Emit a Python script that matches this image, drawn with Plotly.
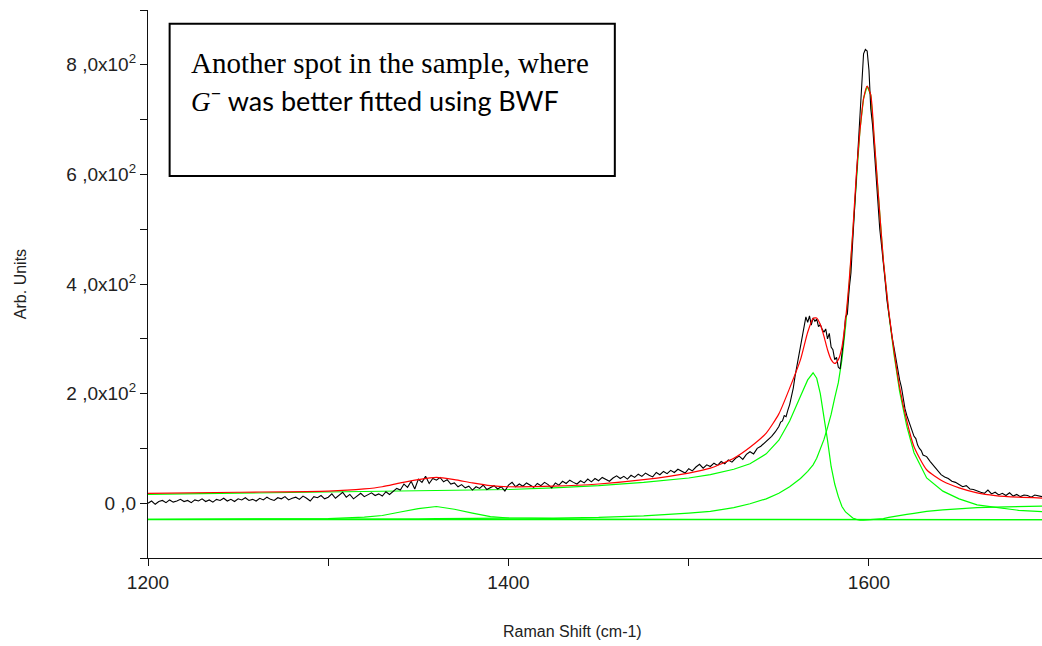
import plotly.graph_objects as go

# ---------------- data ----------------
# measured spectrum (black)
raw_x_a = list(range(1200, 1550, 2))
raw_y_a = [0, 4, -2, 3, 5, 1, 6, 2, 4, 7, 3, 5, 1, 6, 4, 8, 3, 6, 2, 7,
           5, 9, 4, 7, 3, 8, 6, 10, 5, 7, 4, 9, 6, 11, 7, 5, 10, 8, 12, 6,
           9, 11, 7, 13, 9, 4, 12, 10, 14, 8, 11, 17, 9, 14, 20, 11, 16, 8, 13, 18,
           12, 15, 19, 14, 17, 13, 21, 16, 22, 27, 24, 35, 29, 40, 26, 44, 38, 49, 36, 45,
           42, 47, 39, 43, 35, 37, 30, 34, 28, 31, 24, 30, 27, 33, 25, 29, 32, 26, 30, 22,
           33, 38, 30, 35, 31, 37, 33, 29, 36, 32, 38, 34, 28, 37, 33, 40, 36, 42, 38, 35,
           41, 37, 44, 39, 45, 41, 47, 43, 40, 46, 50, 45, 49, 44, 51, 47, 53, 49, 55, 51,
           48, 56, 52, 58, 54, 60, 56, 62, 58, 55, 63, 59, 66, 71, 64, 70, 67, 73, 69, 76,
           72, 79, 75, 82, 86, 80, 89, 94, 90, 100, 104, 110, 116, 122, 130]
raw_x_b = list(range(1550, 1631, 1))
raw_y_b = [140, 148, 150, 160, 158, 170, 180, 195, 210, 232, 250, 268, 280, 300, 318, 340, 330, 342, 325, 338,
           332, 336, 322, 326, 318, 312, 318, 300, 310, 285, 280, 262, 266, 248, 245, 270, 300, 340, 345, 390,
           420, 480, 540, 600, 650, 720, 780, 820, 828, 825, 790, 720, 690, 640, 590, 545, 500, 470, 430, 405,
           370, 345, 320, 300, 282, 260, 242, 225, 212, 190, 172, 160, 150, 140, 128, 122, 118, 106, 100, 96,
           88]
raw_x_c = list(range(1632, 1701, 2))
raw_y_c = [85, 76, 68, 60, 52, 48, 45, 40, 38, 34, 30, 32, 26, 25, 22, 20, 18, 24, 17, 20,
           15, 18, 14, 19, 13, 16, 12, 15, 14, 11, 15, 13, 12, 14, 12]

# fitted curves
fit_x = [1200, 1250, 1300, 1320, 1330, 1340, 1350, 1360, 1370, 1380,
         1390, 1400, 1425, 1450, 1475, 1500, 1512, 1525, 1534, 1543,
         1550, 1556, 1562, 1566, 1569, 1571, 1573, 1575, 1577, 1579,
         1581, 1583, 1585, 1587, 1589, 1591, 1593, 1595, 1597, 1599,
         1601, 1603, 1605, 1608, 1611, 1614, 1617, 1621, 1625, 1632,
         1641, 1650, 1660, 1670, 1683, 1700]
fit_total = [18, 20, 22, 26, 30, 37, 43, 47, 43, 37,
             32, 30, 31, 35, 43, 55, 64, 82, 102, 128,
             163, 210, 262, 312, 337, 338, 326, 305, 280, 262,
             255, 262, 285, 335, 405, 495, 600, 680, 738, 761,
             745, 662, 572, 443, 350, 275, 212, 150, 103, 61,
             40, 28, 19, 14, 11, 9]
fit_bwf = [16, 18, 20, 21, 21.5, 22, 22.5, 23, 23.5, 24,
           24.5, 25, 28, 32, 38, 46, 52, 62, 72, 90,
           115, 150, 195, 225, 238, 228, 200, 160, 115, 67,
           35, 12, -6, -16, -22, -27, -29.5, -31, -31, -30.5,
           -30, -29.5, -29, -28, -26, -24, -22.5, -20.5, -18.5, -15,
           -12, -9.5, -8, -7, -6, -5]
fit_gplus = [-29.5, -29.5, -29, -29, -28.5, -28.5, -28.5, -28, -28, -28,
             -27.5, -27.5, -27, -26, -23, -18, -15, -8, -1, 8,
             18, 30, 45, 58, 70, 82, 98, 116, 138, 162,
             192, 220, 262, 322, 397, 492, 599, 681, 739, 761,
             745, 661, 571, 441, 346, 269, 204, 140, 92, 46,
             22, 8, -3, -7, -13, -16]
d_x = [1200, 1250, 1300, 1320, 1330, 1340, 1350, 1360, 1370, 1380, 1390, 1400, 1425, 1450, 1500, 1600, 1700]
d_y = [-29.5, -29, -28, -25.5, -22.5, -16, -10, -6, -11, -18, -24.5, -27, -28.5, -29, -29.5, -30, -30]
base_x = [1200, 1700]
base_y = [-30, -30]

y_major = [0, 200, 400, 600, 800]
y_labels = ["0 ,0", "2 ,0x10<sup>2</sup>", "4 ,0x10<sup>2</sup>", "6 ,0x10<sup>2</sup>", "8 ,0x10<sup>2</sup>"]
y_minor = [-100, 100, 300, 500, 700, 900]
x_major = [1200, 1400, 1600]
x_labels = ["1200", "1400", "1600"]
x_minor = [1300, 1500, 1700]

X_RANGE = [1200, 1696]
Y_RANGE = [-100, 900]

# ---------------- figure ----------------
GREEN = "#00ff00"
fig = go.Figure()
fig.add_trace(go.Scatter(x=base_x, y=base_y, mode="lines", line=dict(color=GREEN, width=1.2)))
fig.add_trace(go.Scatter(x=d_x, y=d_y, mode="lines", line=dict(color=GREEN, width=1.2)))
fig.add_trace(go.Scatter(x=fit_x, y=fit_gplus, mode="lines", line=dict(color=GREEN, width=1.2)))
fig.add_trace(go.Scatter(x=fit_x, y=fit_bwf, mode="lines", line=dict(color=GREEN, width=1.2)))
fig.add_trace(go.Scatter(x=raw_x_a + raw_x_b + raw_x_c, y=raw_y_a + raw_y_b + raw_y_c,
                         mode="lines", line=dict(color="black", width=1.1)))
fig.add_trace(go.Scatter(x=fit_x, y=fit_total, mode="lines",
                         line=dict(color="#ff0000", width=1.2, shape="spline", smoothing=0.6)))

tick_font = dict(family="Liberation Sans, Arial, sans-serif", size=19, color="#222")
fig.update_layout(
    width=1042, height=646,
    margin=dict(l=148, r=0, t=10, b=88),
    paper_bgcolor="white", plot_bgcolor="white",
    showlegend=False,
    xaxis=dict(range=X_RANGE, tickmode="array", tickvals=x_major, ticktext=x_labels, ticks="outside",
               ticklen=7, tickwidth=1, tickcolor="#111", showline=True, linecolor="#111",
               linewidth=1.2, showgrid=False, zeroline=False, tickfont=tick_font,
               minor=dict(tickmode="array", tickvals=x_minor, ticks="outside", ticklen=7,
                          tickcolor="#111", showgrid=False)),
    yaxis=dict(range=Y_RANGE, tickmode="array", tickvals=y_major, ticktext=y_labels, ticks="outside",
               ticklen=7, tickwidth=1, tickcolor="#111", showline=True, linecolor="#111",
               linewidth=1.2, showgrid=False, zeroline=False, tickfont=tick_font,
               minor=dict(tickmode="array", tickvals=y_minor, ticks="outside", ticklen=7,
                          tickcolor="#111", showgrid=False)),
    xaxis2=dict(range=X_RANGE, overlaying="x", side="top", tickmode="array", tickvals=x_major,
                showticklabels=False, ticks="inside", ticklen=6, tickcolor="#111",
                showline=True, linecolor="#666", linewidth=1, showgrid=False, zeroline=False),
    yaxis2=dict(range=Y_RANGE, overlaying="y", side="right", tickmode="array", tickvals=y_major,
                showticklabels=False, ticks="inside", ticklen=5, tickcolor="#111",
                showline=True, linecolor="#666", linewidth=1, showgrid=False, zeroline=False),
)

# axis titles
fig.add_annotation(text="Raman Shift (cm-1)", xref="paper", yref="paper", x=0.475, y=-0.135,
                   showarrow=False, font=dict(family="Liberation Sans, Arial", size=16, color="#222"),
                   xanchor="center", yanchor="middle")
fig.add_annotation(text="Arb. Units", xref="paper", yref="paper", x=-0.143, y=0.5, textangle=-90,
                   showarrow=False, font=dict(family="Liberation Sans, Arial", size=16, color="#222"),
                   xanchor="center", yanchor="middle")

# text box
fig.add_shape(type="rect", xref="x", yref="y", x0=1212, x1=1459, y0=597, y1=875,
              line=dict(color="black", width=2), fillcolor="white")
fig.add_annotation(text="Another spot in the sample, where", xref="x", yref="y",
                   x=1223, y=803, xanchor="left", yanchor="middle", showarrow=False,
                   font=dict(family="Liberation Serif, Times New Roman, serif", size=29, color="black"))
fig.add_annotation(text="<span style='font-family:Liberation Serif'><i>G</i></span><sup>\u2212</sup> was better fitted using BWF",
                   xref="x", yref="y",
                   x=1223, y=737, xanchor="left", yanchor="middle", showarrow=False,
                   font=dict(family="Lato, Carlito, Calibri, sans-serif", size=27, color="black"))

fig.write_html("out.html", config={"displayModeBar": False},
               post_script="document.body.style.margin='0';document.body.style.overflow='hidden';")
